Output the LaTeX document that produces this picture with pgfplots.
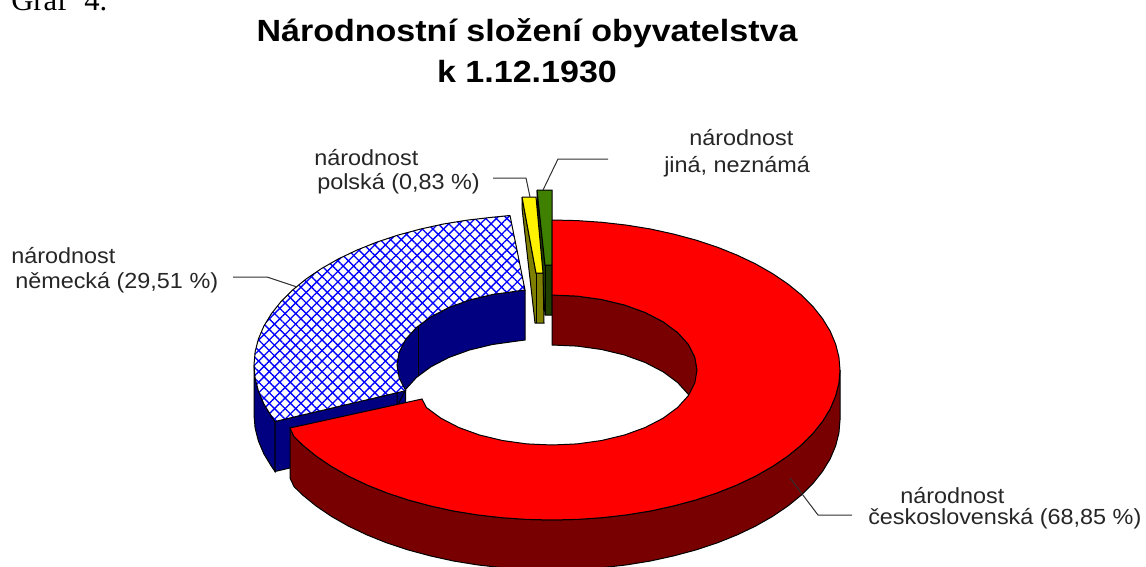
\documentclass[border=0pt]{standalone}
\usepackage{fontspec}
\setmainfont{Liberation Sans}
\newfontfamily\timesf{Liberation Serif}
\usepackage{pgfplots}
\usepackage{pgfplotstable}
\pgfplotsset{compat=1.18}
\usetikzlibrary{patterns.meta}
\definecolor{dkred}{HTML}{780000}
\definecolor{navyb}{HTML}{000080}
\definecolor{olivey}{HTML}{808000}
\definecolor{greent}{HTML}{408000}
\definecolor{greend}{HTML}{204000}
\definecolor{lead}{HTML}{303030}
\pgfplotstableread{
x y
510 215.5
492 217.3
467.5 220.1
443.5 224
420.3 229.1
398 235.1
376.8 242.1
356.9 250.1
338.4 258.9
321.4 268.6
306.1 279
292.6 290
281 301.6
271.4 313.7
263.8 326.2
258.4 339
255.1 351.9
254 365
255.1 378.1
258.4 391
263.8 403.8
271.4 416.3
275 421.5
405.7 390.7
399.2 378
397 365
399.2 352
405.7 339.3
416.4 327.5
430.9 316.8
448.8 307.5
469.5 300
492.4 294.5
516.8 291.1
525 290
510 215.5
}\blueTop
\newcommand{\lbl}[3]{\node[anchor=base west,inner sep=0pt,font=\fontsize{16.4pt}{18pt}\selectfont,text=black!85] at (axis cs:#1,#2) {\scalebox{1.07}[1]{#3}};}
\begin{document}
\begin{tikzpicture}
\clip (0,0) rectangle (859.5pt,425.25pt);
\begin{axis}[at={(0,0)},anchor=south west,scale only axis,width=859.5pt,height=425.25pt,
  xmin=0,xmax=1146,ymin=0,ymax=567,y dir=reverse,hide axis,clip=false,
  every axis plot/.append style={no markers,line width=0.75pt,forget plot}]
% blue outer wall
\addplot[draw=black,fill=navyb] coordinates {(254,365)(255.1,378.1)(258.4,391)(263.8,403.8)(271.4,416.3)(275,421.5)(275,471.5)(271.4,466.3)(263.8,453.8)(258.4,441)(255.1,428.1)(254,415)(254,365)};
% blue cut face
\addplot[draw=black,fill=navyb] coordinates {(275,421.5)(405.7,390.7)(405.7,440.7)(275,471.5)(275,421.5)};
% blue inner wall
\addplot[draw=black,fill=navyb] coordinates {(525,290)(516.8,291.1)(492.4,294.5)(469.5,300)(448.8,307.5)(430.9,316.8)(416.4,327.5)(405.7,339.3)(399.2,352)(397,365)(397,415)(399.2,402)(405.7,389.3)(416.4,377.5)(430.9,366.8)(448.8,357.5)(469.5,350)(492.4,344.5)(516.8,341.1)(525,340)(525,290)};
\addplot[draw=black] coordinates {(418,326)(418,376)};
% blue top
\addplot[draw=none,fill=white] table {\blueTop};
\addplot[draw=none,pattern={Lines[angle=45,distance=5.6pt,line width=1pt]},pattern color=blue] table {\blueTop};
\addplot[draw=none,pattern={Lines[angle=-45,distance=5.6pt,line width=1pt]},pattern color=blue] table {\blueTop};
\addplot[draw=black] table {\blueTop};
% green
\addplot[draw=black,fill=greend] coordinates {(537,190)(537,200)(545,315)(552,315)(552,265)(545,265)(537,190)};
\addplot[draw=black] coordinates {(545,265)(545,315)};
\addplot[draw=black,fill=greent] coordinates {(537,190)(552,190)(552,265)(545,265)(537,190)};
% yellow
\addplot[draw=black,fill=olivey] coordinates {(522,197)(522,208)(535,323)(544,323)(543,273)(536,273)(522,197)};
\addplot[draw=black] coordinates {(536,273)(536,323)};
\addplot[draw=black,fill=yellow] coordinates {(522,197)(536,197)(543,273)(536,273)(522,197)};
% red inner wall
\addplot[draw=black,fill=dkred] coordinates {(552,295)(577.2,296.1)(601.6,299.5)(624.5,305)(645.2,312.5)(663.1,321.8)(677.6,332.5)(688.3,344.3)(694.8,357)(697,370)(697,420)(694.8,407)(688.3,394.3)(677.6,382.5)(663.1,371.8)(645.2,362.5)(624.5,355)(601.6,349.5)(577.2,346.1)(552,345)(552,295)};
% red outer wall
\addplot[draw=black,fill=dkred] coordinates {(840,370)(838.9,383.1)(835.6,396)(830.2,408.8)(822.6,421.3)(813,433.4)(801.4,445)(787.9,456)(772.6,466.4)(755.6,476.1)(737.1,484.9)(717.2,492.9)(696,499.9)(673.7,505.9)(650.5,511)(626.5,514.9)(602,517.7)(577.1,519.4)(552,520)(526.9,519.4)(502,517.7)(477.5,514.9)(453.5,511)(430.3,505.9)(408,499.9)(386.8,492.9)(366.9,484.9)(348.4,476.1)(331.4,466.4)(316.1,456)(302.6,445)(294,436.6)(290,428)
(290,478)(294,486.6)(302.6,495)(316.1,506)(331.4,516.4)(348.4,526.1)(366.9,534.9)(386.8,542.9)(408,549.9)(430.3,555.9)(453.5,561)(477.5,564.9)(502,567.7)(526.9,569.4)(552,570)(577.1,569.4)(602,567.7)(626.5,564.9)(650.5,561)(673.7,555.9)(696,549.9)(717.2,542.9)(737.1,534.9)(755.6,526.1)(772.6,516.4)(787.9,506)(801.4,495)(813,483.4)(822.6,471.3)(830.2,458.8)(835.6,446)(838.9,433.1)(840,420)(840,370)};
% red top
\addplot[draw=black,fill=red] coordinates {(552,220)(577.1,220.6)(602,222.3)(626.5,225.1)(650.5,229)(673.7,234.1)(696,240.1)(717.2,247.1)(737.1,255.1)(755.6,263.9)(772.6,273.6)(787.9,284)(801.4,295)(813,306.6)(822.6,318.7)(830.2,331.2)(835.6,344)(838.9,356.9)(840,370)(838.9,383.1)(835.6,396)(830.2,408.8)(822.6,421.3)(813,433.4)(801.4,445)(787.9,456)(772.6,466.4)(755.6,476.1)(737.1,484.9)(717.2,492.9)(696,499.9)(673.7,505.9)(650.5,511)(626.5,514.9)(602,517.7)(577.1,519.4)(552,520)(526.9,519.4)(502,517.7)(477.5,514.9)(453.5,511)(430.3,505.9)(408,499.9)(386.8,492.9)(366.9,484.9)(348.4,476.1)(331.4,466.4)(316.1,456)(302.6,445)(294,436.6)(290,428)(422,399)(426.4,407.5)(440.9,418.2)(458.8,427.5)(479.5,435)(502.4,440.5)(526.8,443.9)(552,445)(577.2,443.9)(601.6,440.5)(624.5,435)(645.2,427.5)(663.1,418.2)(677.6,407.5)(688.3,395.7)(694.8,383)(697,370)(694.8,357)(688.3,344.3)(677.6,332.5)(663.1,321.8)(645.2,312.5)(624.5,305)(601.6,299.5)(577.2,296.1)(552,295)(552,220)};
% leader lines
\addplot[draw=lead] coordinates {(233,277)(267,277)(297,287)};
\addplot[draw=lead] coordinates {(493,178)(526,178)(530,197)};
\addplot[draw=lead] coordinates {(608,159)(558,159)(543,190)};
\addplot[draw=lead] coordinates {(852,515)(818,515)(790,478)};
% texts
\node[anchor=base west,inner sep=0pt,font=\timesf\fontsize{23pt}{25pt}\selectfont] at (axis cs:11,11) {Graf\hspace{12.7pt}4.};
\node[anchor=base,inner sep=0pt,font=\bfseries\fontsize{23pt}{25pt}\selectfont] at (axis cs:527,42) {\scalebox{1.11}[1]{Národnostní složení obyvatelstva}};
\node[anchor=base,inner sep=0pt,font=\bfseries\fontsize{23pt}{25pt}\selectfont] at (axis cs:527,83) {\scalebox{1.11}[1]{k 1.12.1930}};
\lbl{314}{166}{národnost}
\lbl{317}{189}{polská (0,83 \%)}
\lbl{11}{263}{národnost}
\lbl{15}{288}{německá (29,51 \%)}
\lbl{689}{146}{národnost}
\lbl{664}{172}{jiná, neznámá}
\lbl{900}{503}{národnost}
\lbl{868}{524}{československá (68,85 \%)}
\end{axis}
\end{tikzpicture}
\end{document}
